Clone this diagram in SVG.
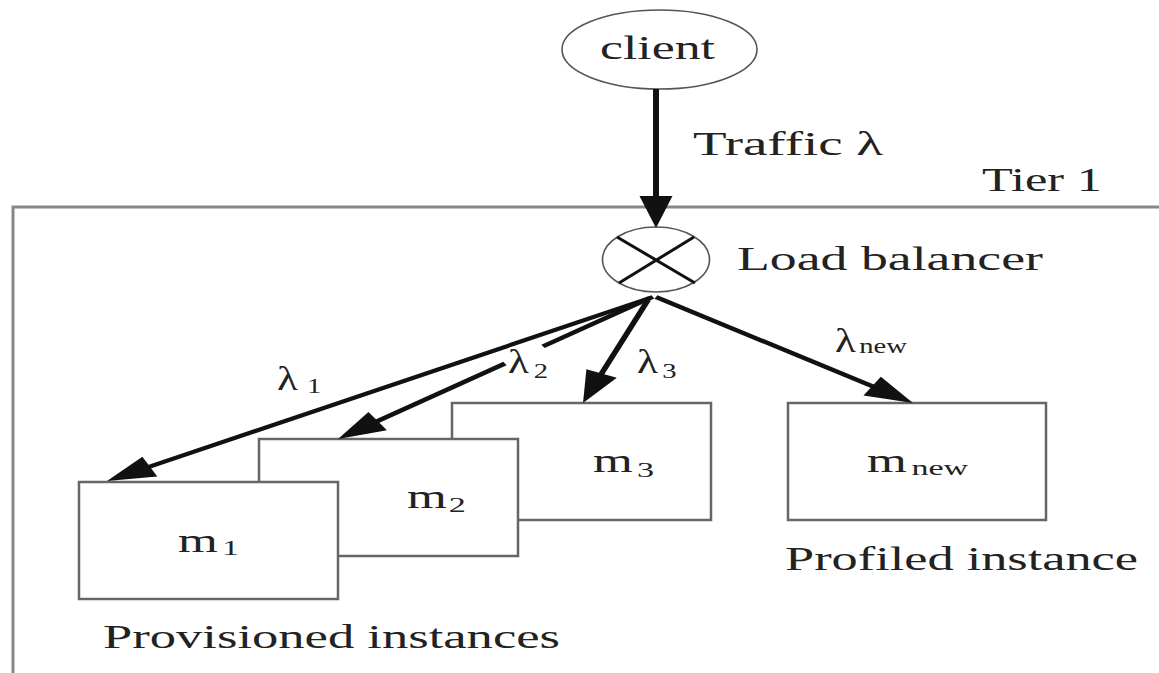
<svg xmlns="http://www.w3.org/2000/svg" width="1159" height="673" viewBox="0 0 1159 673">
<style>
.box{fill:#fff;stroke:#666;stroke-width:2.5}
.oval{fill:#fff;stroke:#555;stroke-width:1.6}
.t{font-family:"Liberation Serif","Times New Roman",serif;font-size:33px;fill:#222}
.sub{font-size:22px}
.conn{fill:none;stroke:#111;stroke-width:4}
.xmark{stroke:#111;stroke-width:3}
.tier{fill:none;stroke:#888;stroke-width:3}
</style>
<defs>
<marker id="ah" markerUnits="userSpaceOnUse" markerWidth="32" markerHeight="22" refX="12" refY="11" orient="auto" overflow="visible">
<path d="M0,0 L32,11 L0,22 z" fill="#111"/>
</marker>
</defs>
<rect width="1159" height="673" fill="#fff"/>

<g id="tier1">
<path class="tier" d="M13,690 V207 H1170"/>
<text class="t" transform="scale(1.55 1)" x="633.5" y="191" textLength="77.4" lengthAdjust="spacingAndGlyphs">Tier 1</text>
</g>

<g id="client">
<ellipse class="oval" cx="659.5" cy="49.5" rx="97.5" ry="39.5"/>
<text class="t" transform="scale(1.55 1)" x="387.1" y="59" textLength="74.2" lengthAdjust="spacingAndGlyphs">client</text>
</g>

<g id="loadbalancer">
<ellipse class="oval" cx="656" cy="259.5" rx="53.5" ry="32.5"/>
<line class="xmark" x1="617" y1="237" x2="695" y2="283"/>
<line class="xmark" x1="694" y1="237" x2="619" y2="283"/>
<text class="t" transform="scale(1.55 1)" x="475.5" y="270" textLength="197.4" lengthAdjust="spacingAndGlyphs">Load balancer</text>
</g>

<g id="m3">
<rect class="box" x="452" y="403" width="259" height="117"/>
<text class="t" transform="scale(1.55 1)" x="382.6" y="472">m<tspan class="sub" x="411" y="477">3</tspan></text>
</g>

<g id="m2">
<rect class="box" x="259" y="439" width="259" height="117"/>
<text class="t" transform="scale(1.55 1)" x="262.6" y="508">m<tspan class="sub" x="289.5" y="512">2</tspan></text>
</g>

<g id="m1">
<rect class="box" x="79" y="482" width="259" height="117"/>
<text class="t" transform="scale(1.55 1)" x="114.8" y="552">m<tspan class="sub" x="143.2" y="555">1</tspan></text>
<text class="t" transform="scale(1.55 1)" x="66.5" y="648" textLength="294.8" lengthAdjust="spacingAndGlyphs">Provisioned instances</text>
</g>

<g id="mnew">
<rect class="box" x="788" y="403" width="258" height="117"/>
<text class="t" transform="scale(1.55 1)" x="559.4" y="472">m<tspan class="sub" x="588" y="475">new</tspan></text>
<text class="t" transform="scale(1.55 1)" x="506.5" y="570" textLength="227.7" lengthAdjust="spacingAndGlyphs">Profiled instance</text>
</g>

<g id="connectors">
<g transform="scale(1.5 1)">
<path class="conn" d="M437.33,89 V208" marker-end="url(#ah)"/>
<path class="conn" d="M435.33,297 L89.18,471.98" marker-end="url(#ah)"/>
<path class="conn" d="M433.33,298 L362,346.4"/>
<path class="conn" d="M336.67,363.5 L241.88,427.78" marker-end="url(#ah)"/>
<path class="conn" d="M432,300 L396.43,384.56" marker-end="url(#ah)"/>
<path class="conn" d="M437.33,297 L591.66,392.48" marker-end="url(#ah)"/>
</g>
<text class="t" transform="scale(1.55 1)" x="447.1" y="155" textLength="122.6" lengthAdjust="spacingAndGlyphs">Traffic λ</text>
<text class="t" transform="scale(1.3 1)" x="213.1" y="390">λ<tspan class="sub" x="236.2" y="393">1</tspan></text>
<text class="t" transform="scale(1.3 1)" x="390.8" y="373">λ<tspan class="sub" x="410.5" y="378">2</tspan></text>
<text class="t" transform="scale(1.3 1)" x="490" y="373">λ<tspan class="sub" x="509.5" y="378">3</tspan></text>
<text class="t" transform="scale(1.3 1)" x="642.3" y="352">λ<tspan class="sub" x="661" y="353" font-size="24">new</tspan></text>
</g>
</svg>
